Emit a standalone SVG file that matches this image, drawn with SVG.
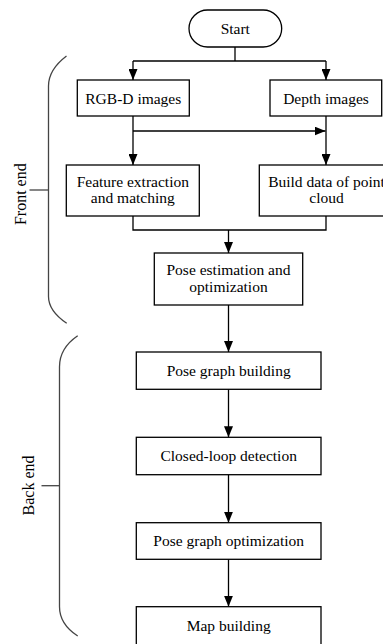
<svg xmlns="http://www.w3.org/2000/svg" width="383" height="644" viewBox="0 0 383 644">
<style>
.box{fill:#fff;stroke:#000;stroke-width:1.3}
.t{font-family:"Liberation Serif","Times New Roman",serif;font-size:15.5px;fill:#000;text-anchor:middle}
.side{font-family:"Liberation Serif","Times New Roman",serif;font-size:16px;fill:#000;text-anchor:middle}
.c{fill:none;stroke:#000;stroke-width:1.3}
.br{fill:none;stroke:#444;stroke-width:1.3}
</style>
<defs>
<marker id="ah" markerUnits="userSpaceOnUse" markerWidth="11" markerHeight="9" refX="11" refY="4.5" orient="auto">
<path d="M0,0 L11,4.5 L0,9 z" fill="#000"/>
</marker>
</defs>
<rect width="383" height="644" fill="#fff"/>
<g id="connectors">
<path class="c" d="M235,47 V61"/>
<path class="c" d="M133,61 H326"/>
<path class="c" d="M133,61 V80" marker-end="url(#ah)"/>
<path class="c" d="M326,61 V80" marker-end="url(#ah)"/>
<path class="c" d="M133,116 V165" marker-end="url(#ah)"/>
<path class="c" d="M133,131 H325.5" marker-end="url(#ah)"/>
<path class="c" d="M326,116 V165" marker-end="url(#ah)"/>
<path class="c" d="M133,216 V230 H326 V216"/>
<path class="c" d="M228.5,230 V253" marker-end="url(#ah)"/>
<path class="c" d="M228.5,305 V352" marker-end="url(#ah)"/>
<path class="c" d="M228.5,389.3 V437.3" marker-end="url(#ah)"/>
<path class="c" d="M228.5,474.7 V522.7" marker-end="url(#ah)"/>
<path class="c" d="M228.5,559.3 V606.7" marker-end="url(#ah)"/>
</g>
<g id="start">
<rect class="box" x="189" y="10" width="92.7" height="37" rx="18.5"/>
<text class="t" x="235.3" y="34">Start</text>
</g>
<g id="rgbd">
<rect class="box" x="77.3" y="80" width="112" height="36"/>
<text class="t" x="133.3" y="103.5">RGB-D images</text>
</g>
<g id="depth">
<rect class="box" x="270" y="80" width="111.7" height="36"/>
<text class="t" x="326" y="103.5">Depth images</text>
</g>
<g id="feature">
<rect class="box" x="66.3" y="165" width="133" height="51"/>
<text class="t" x="132.8" y="186.7">Feature extraction</text>
<text class="t" x="132.8" y="203.3">and matching</text>
</g>
<g id="build">
<rect class="box" x="259.3" y="165" width="134" height="51"/>
<text class="t" x="326.5" y="186.7">Build data of point</text>
<text class="t" x="326.5" y="203.3">cloud</text>
</g>
<g id="pose-est">
<rect class="box" x="154.3" y="253" width="148.4" height="52"/>
<text class="t" x="228.5" y="275">Pose estimation and</text>
<text class="t" x="228.5" y="291.5">optimization</text>
</g>
<g id="pg-build">
<rect class="box" x="136.3" y="352" width="184.7" height="37.3"/>
<text class="t" x="228.7" y="376">Pose graph building</text>
</g>
<g id="closed-loop">
<rect class="box" x="136.3" y="437.3" width="184.7" height="37.4"/>
<text class="t" x="228.7" y="461.3">Closed-loop detection</text>
</g>
<g id="pg-opt">
<rect class="box" x="136.3" y="522.7" width="184.7" height="36.6"/>
<text class="t" x="228.7" y="546.3">Pose graph optimization</text>
</g>
<g id="map">
<rect class="box" x="136.3" y="606.7" width="184.7" height="40"/>
<text class="t" x="228.7" y="630.5">Map building</text>
</g>
<g id="front-end">
<path class="br" d="M66.5,56 C56,64 48.5,74 48.5,86 V296.5 C48.5,307 56,316 66.7,323.3"/>
<path class="br" d="M29.5,190 H48.5"/>
<text class="side" transform="translate(25.5,194.2) rotate(-90)">Front end</text>
</g>
<g id="back-end">
<path class="br" d="M77.7,335.7 C67,343 59.5,354 59.5,366.7 V606.7 C59.5,619 67,629 77.7,636"/>
<path class="br" d="M41.5,485.7 H59.5"/>
<text class="side" transform="translate(34,485.5) rotate(-90)">Back end</text>
</g>
</svg>
